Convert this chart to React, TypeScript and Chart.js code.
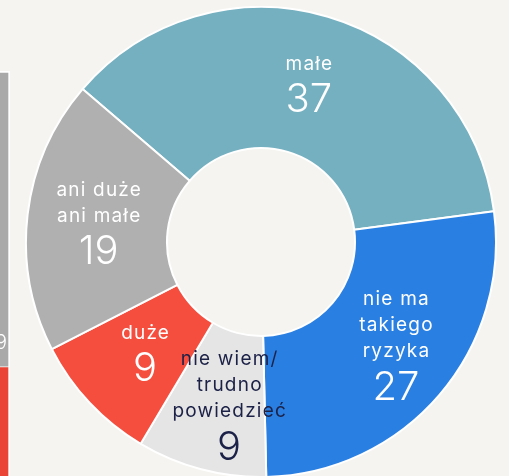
import React, { useEffect, useRef } from "react";
import { Chart, registerables } from "chart.js";

Chart.register(...registerables);

// Doughnut data
const categories = ["małe", "nie ma takiego ryzyka", "nie wiem/ trudno powiedzieć", "duże", "ani duże ani małe"];
const labelLines = [["małe"], ["nie ma", "takiego", "ryzyka"], ["nie wiem/", "trudno", "powiedzieć"], ["duże"], ["ani duże", "ani małe"]];
const values = [37, 27, 9, 9, 19];
const sliceColors = ["#75b0c1", "#2a7fe2", "#e5e5e5", "#f54e3e", "#b0b0b0"];
const textColors = ["#ffffff", "#ffffff", "#1c2147", "#ffffff", "#ffffff"];

// Cropped neighbouring stacked bar (left edge)
const stripCategories = [""];
const stripRed = [44];
const stripGray = [56];
const stripGrayLabel = ["19"];

const BG = "#f5f4f0";

// small per-slice nudges of the label blocks (style only)
const labelNudgeX = [1, 10, 10, 4, 1];
const labelNudgeY = [-3, -6, 2, -4, -2];

const sliceLabelPlugin = {
  id: "sliceLabels",
  afterDatasetsDraw(chart: any) {
    const ctx = chart.ctx;
    const meta = chart.getDatasetMeta(0);
    const data = chart.data.datasets[0].data;
    ctx.save();
    ctx.textAlign = "center";
    ctx.textBaseline = "middle";
    meta.data.forEach((arc: any, i: number) => {
      const c = arc.getCenterPoint();
      const px = c.x + labelNudgeX[i];
      const py = c.y + labelNudgeY[i];
      const lines = labelLines[i];
      const lineGap = 26;
      const numGap = 35;
      const span = lineGap * (lines.length - 1) + numGap;
      const top = py - span / 2;
      ctx.fillStyle = textColors[i];
      ctx.font = "400 19px Inter, 'Open Sans', sans-serif";
      try { (ctx as any).letterSpacing = "1.2px"; } catch (e) {}
      lines.forEach((ln, k) => {
        ctx.fillText(ln, px + 0.6, top + k * lineGap);
      });
      ctx.font = "300 40px Inter, 'Open Sans', sans-serif";
      try { (ctx as any).letterSpacing = "0px"; } catch (e) {}
      ctx.fillText(String(data[i]), px, top + span + 1);
    });
    ctx.restore();
  },
};

const stripLabelPlugin = {
  id: "stripLabels",
  afterDatasetsDraw(chart: any) {
    const ctx = chart.ctx;
    const meta = chart.getDatasetMeta(1);
    ctx.save();
    ctx.textAlign = "center";
    ctx.textBaseline = "middle";
    ctx.fillStyle = "#ffffff";
    ctx.font = "300 20px Inter, 'Open Sans', sans-serif";
    meta.data.forEach((bar: any, i: number) => {
      const p = bar.getProps(["x", "y", "base"], true);
      ctx.fillText(stripGrayLabel[i], p.x + 38, p.base - 24);
    });
    ctx.restore();
  },
};

export default function App() {
  const donutRef = useRef<HTMLCanvasElement>(null);
  const stripRef = useRef<HTMLCanvasElement>(null);

  useEffect(() => {
    const donut = new Chart(donutRef.current!, {
      type: "doughnut",
      data: {
        labels: categories,
        datasets: [
          {
            data: values,
            backgroundColor: sliceColors,
            borderColor: "#ffffff",
            borderWidth: 2,
          },
        ],
      },
      options: {
        responsive: false,
        animation: false,
        rotation: -49.4,
        cutout: "40%",
        layout: { padding: 0 },
        plugins: { legend: { display: false }, tooltip: { enabled: false } },
      },
      plugins: [sliceLabelPlugin],
    });

    const strip = new Chart(stripRef.current!, {
      type: "bar",
      data: {
        labels: stripCategories,
        datasets: [
          {
            data: stripRed,
            backgroundColor: "#e94435",
            borderColor: "#ffffff",
            borderWidth: { top: 0, right: 2, bottom: 0, left: 0 },
            borderSkipped: false,
            barPercentage: 1,
            categoryPercentage: 1,
          },
          {
            data: stripGray,
            backgroundColor: "#a9a9a9",
            borderColor: "#ffffff",
            borderWidth: { top: 2, right: 2, bottom: 1, left: 0 },
            borderSkipped: false,
            barPercentage: 1,
            categoryPercentage: 1,
          },
        ],
      },
      options: {
        responsive: false,
        animation: false,
        layout: { padding: { top: 71, left: 0, right: 0, bottom: 0 } },
        scales: {
          x: { display: false, stacked: true },
          y: { display: false, stacked: true, min: 0, max: 100 },
        },
        plugins: { legend: { display: false }, tooltip: { enabled: false } },
      },
      plugins: [stripLabelPlugin],
    });

    return () => {
      donut.destroy();
      strip.destroy();
    };
  }, []);

  return (
    <div
      style={{
        position: "fixed",
        left: 0,
        top: 0,
        width: 509,
        height: 476,
        overflow: "hidden",
        background: BG,
      }}
    >
      <canvas
        ref={stripRef}
        width={102}
        height={600}
        style={{ position: "absolute", left: -92, top: 0, width: 102, height: 600 }}
      />
      <canvas
        ref={donutRef}
        width={472}
        height={472}
        style={{ position: "absolute", left: 25, top: 6, width: 472, height: 472 }}
      />
    </div>
  );
}
